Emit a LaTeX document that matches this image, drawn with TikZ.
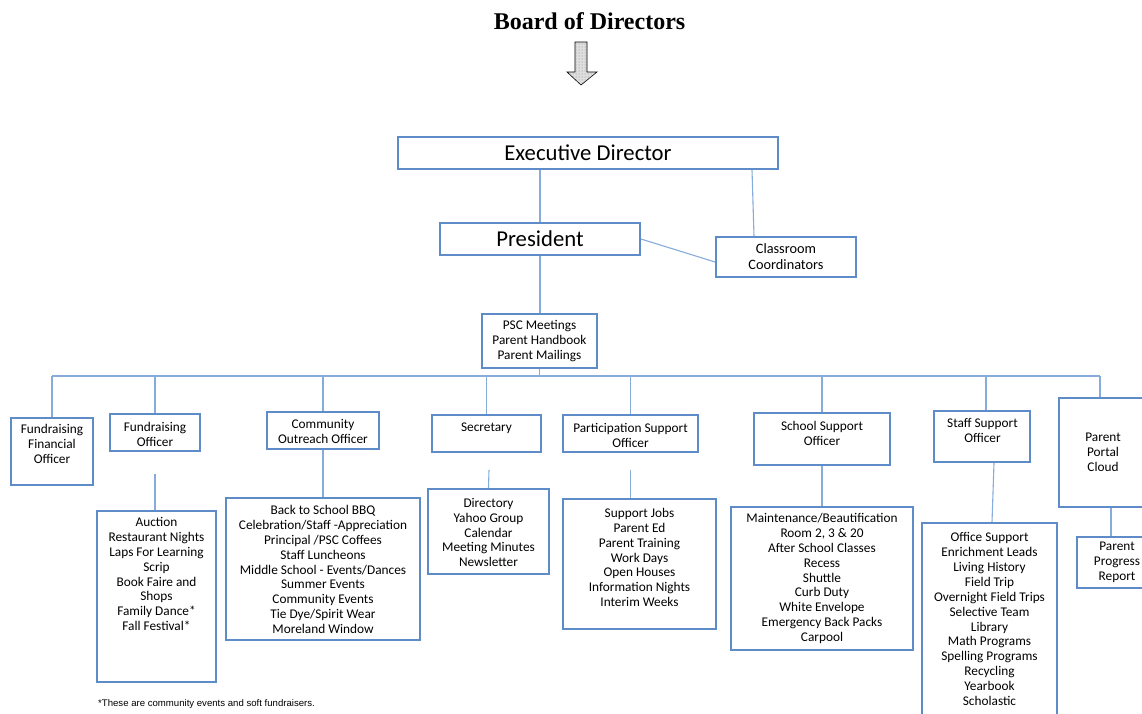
\documentclass[tikz,border=0pt]{standalone}
\usepackage{fontspec}
\setmainfont{Carlito}
\newfontfamily\titlefont{Liberation Serif}
\newfontfamily\notefont{Liberation Sans}
\usetikzlibrary{patterns}
\definecolor{boxblue}{RGB}{94,140,200}
\definecolor{linkblue}{RGB}{135,172,220}
\begin{document}
\begin{tikzpicture}[x=1pt,y=-1pt,
  frame/.style={draw=boxblue, line width=1.8pt, fill=white, inner sep=0pt, rectangle, align=center, font=\fontsize{13.3}{14.9}\selectfont},
  link/.style={draw=linkblue, line width=1.1pt},
  txt/.style={align=center, inner sep=0pt, font=\fontsize{13.3}{14.9}\selectfont},
  bigtxt/.style={font=\fontsize{22.7}{26}\selectfont}]
\useasboundingbox (0,0) rectangle (1142,713);
\fill[white] (0,0) rectangle (1142,713);

% title and arrow
\node[inner sep=0pt, font=\titlefont\bfseries\fontsize{24}{28}\selectfont] (title) at (589.5,21) {Board of Directors};
\path[draw=black, line width=0.6pt, fill=gray!25, postaction={pattern=dots, pattern color=gray}]
  (575,42) -- (587,42) -- (587,72) -- (597,72) -- (581,85) -- (567,72) -- (575,72) -- cycle;

% top boxes
\node[frame, bigtxt, minimum width=380pt, minimum height=32pt] (ed) at (588,153) {Executive Director};
\node[frame, bigtxt, minimum width=200pt, minimum height=32pt] (pres) at (540,239) {President};
\node[frame, font=\fontsize{14.3}{16}\selectfont, minimum width=140pt, minimum height=40pt] (cc) at (786,257) {Classroom\\Coordinators};
\node[frame, minimum width=115pt, minimum height=54pt] (psc) at (539.5,341) {PSC Meetings\\Parent Handbook\\Parent Mailings};

% officer boxes
\node[frame, minimum width=82pt, minimum height=67pt] (ffo) at (52,451.5) {};
\node[txt] (ffo-t) at (52,444) {Fundraising\\Financial\\Officer};
\node[frame, minimum width=90pt, minimum height=37pt] (fo) at (155,432.5) {};
\node[txt] (fo-t) at (155,434) {Fundraising\\Officer};
\node[frame, minimum width=112pt, minimum height=37pt] (coo) at (323,430.5) {};
\node[txt] (coo-t) at (323,431.5) {Community\\Outreach Officer};
\node[frame, minimum width=109pt, minimum height=37pt] (sec) at (486.5,433.5) {};
\node[txt] (sec-t) at (486.5,428) {Secretary};
\node[frame, minimum width=135pt, minimum height=37pt] (pso) at (630.5,433.5) {};
\node[txt] (pso-t) at (630.5,435) {Participation Support\\Officer};
\node[frame, minimum width=136pt, minimum height=52pt] (sso) at (822,439) {};
\node[txt] (sso-t) at (822,433) {School Support\\Officer};
\node[frame, minimum width=96pt, minimum height=51pt] (sto) at (982,436.5) {};
\node[txt] (sto-t) at (982.5,430) {Staff Support\\Officer};
\node[frame, minimum width=88pt, minimum height=109pt] (ppc) at (1103,452.5) {Parent\\Portal\\Cloud};

% list boxes
\node[frame, minimum width=119pt, minimum height=171pt] (fol) at (156.5,596.5) {};
\node[txt] (fol-t) at (156.5,574) {Auction\\Restaurant Nights\\Laps For Learning\\Scrip\\Book Faire and\\Shops\\Family Dance*\\Fall Festival*};
\node[frame, minimum width=194pt, minimum height=142pt] (col) at (323,569) {};
\node[txt] (col-t) at (323,569.5) {Back to School BBQ\\Celebration/Staff -Appreciation\\Principal /PSC Coffees\\Staff Luncheons\\Middle School - Events/Dances\\Summer Events\\Community Events\\Tie Dye/Spirit Wear\\Moreland Window};
\node[frame, minimum width=121pt, minimum height=85pt] (sel) at (488.5,531.5) {};
\node[txt] (sel-t) at (488.5,532.5) {Directory\\Yahoo Group\\Calendar\\Meeting Minutes\\Newsletter};
\node[frame, minimum width=153pt, minimum height=130pt] (pol) at (639.5,564) {};
\node[txt] (pol-t) at (639.5,557.5) {Support Jobs\\Parent Ed\\Parent Training\\Work Days\\Open Houses\\Information Nights\\Interim Weeks};
\node[frame, minimum width=182pt, minimum height=143pt] (scl) at (822,578.5) {};
\node[txt] (scl-t) at (822,578.5) {Maintenance/Beautification\\Room 2, 3 \& 20\\After School Classes\\Recess\\Shuttle\\Curb Duty\\White Envelope\\Emergency Back Packs\\Carpool};
\node[frame, minimum width=135pt, minimum height=200pt] (stl) at (989.5,623) {};
\node[txt] (stl-t) at (989.5,619) {Office Support\\Enrichment Leads\\Living History\\Field Trip\\Overnight Field Trips\\Selective Team\\Library\\Math Programs\\Spelling Programs\\Recycling\\Yearbook\\Scholastic};
\node[frame, minimum width=80pt, minimum height=51pt] (ppr) at (1117,562.5) {Parent\\Progress\\Report};

% footnote
\node[inner sep=0pt, anchor=west, font=\notefont\fontsize{9.6}{11}\selectfont] (note) at (98,704) {*These are community events and soft fundraisers.};

% connectors
\draw[link] (pres.north) -- (pres.north |- ed.south);
\draw[link] ([xshift=164pt]ed.south) -- ([xshift=-32pt]cc.north);
\draw[link] (pres.east) -- ([yshift=-5pt]cc.west);
\draw[link] (pres.south) -- (pres.south |- psc.north);
\coordinate (busL) at (52,376);
\coordinate (busR) at (1100,376);
\draw[link] (psc.south) -- (psc.south |- busL);
\draw[link] (busL) -- (busR);
\draw[link] (busL) -- (ffo.north -| busL);
\draw[link] (fo.north |- busL) -- (fo.north);
\draw[link] (coo.north |- busL) -- (coo.north);
\draw[link] (sec.north |- busL) -- (sec.north);
\draw[link] (pso.north |- busL) -- (pso.north);
\draw[link] (sso.north |- busL) -- (sso.north);
\draw[link] ([xshift=4pt]sto.north |- busL) -- ([xshift=4pt]sto.north);
\draw[link] (busR) -- (ppc.north -| busR);

\draw[link] (fo.south) ++(0,22) -- (fol.north -| fo.south);
\draw[link] (coo.south) -- (col.north);
\draw[link] ([xshift=2.5pt]sec.south) ++(0,17) -- (sel.north);
\draw[link] (pso.south) ++(0,17) -- (pol.north -| pso.south);
\draw[link] (sso.south) -- (scl.north);
\draw[link] ([xshift=12pt]sto.south) -- ([xshift=2.5pt]stl.north);
\draw[link] ([xshift=8pt]ppc.south) -- ([xshift=-6pt]ppr.north);
\end{tikzpicture}
\end{document}
